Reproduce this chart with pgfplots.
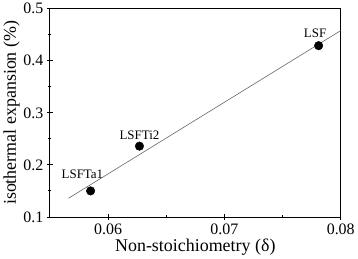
\documentclass[border=0pt]{standalone}
\usepackage{fontspec}
\setmainfont{Liberation Serif}
\usepackage{pgfplots}
\pgfplotsset{compat=1.18}
\begin{document}
\begin{tikzpicture}
\begin{axis}[
  scale only axis,
  width=292pt, height=209pt,
  xmin=0.055, xmax=0.08,
  ymin=0.1, ymax=0.5,
  scaled ticks=false,
  xtick={0.06,0.07,0.08},
  xticklabels={0.06,0.07,0.08},
  ytick={0.1,0.2,0.3,0.4,0.5},
  yticklabels={0.1,0.2,0.3,0.4,0.5},
  minor xtick={0.065,0.075},
  minor ytick={0.15,0.25,0.35,0.45},
  tick align=center,
  major tick length=6pt,
  minor tick length=3pt,
  xtick pos=bottom, ytick pos=left,
  ticklabel style={font=\fontsize{16}{18}\selectfont},
  label style={font=\fontsize{18}{20}\selectfont},
  xlabel={Non-stoichiometry (δ)},
  ylabel={isothermal expansion (\%)},
  xlabel style={yshift=2pt},
  ylabel style={yshift=-3pt},
  axis line style={line width=0.8pt},
  tick style={line width=0.8pt, black},
]
\addplot[color=black!60, line width=0.6pt] coordinates {(0.0566,0.1358) (0.08,0.458)};
\addplot[only marks, mark=*, mark size=4.3pt, black] coordinates {
  (0.0585,0.150)
  (0.0627,0.236)
  (0.0781,0.429)
};
\node[font=\fontsize{13}{15}\selectfont] at (axis cs:0.0578,0.182) {LSFTa1};
\node[font=\fontsize{13}{15}\selectfont] at (axis cs:0.0627,0.257) {LSFTi2};
\node[font=\fontsize{13}{15}\selectfont] at (axis cs:0.0778,0.452) {LSF};
\end{axis}
\end{tikzpicture}
\end{document}
